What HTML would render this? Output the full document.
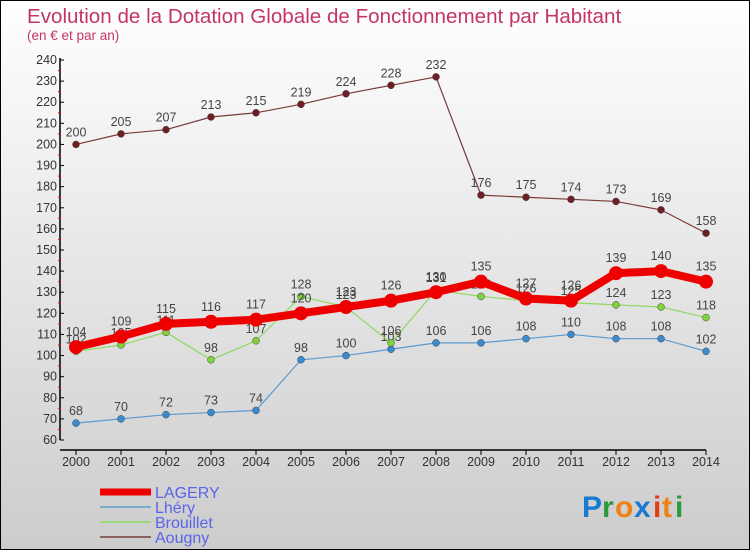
<!DOCTYPE html>
<html><head><meta charset="utf-8"><style>
body{margin:0}
svg{display:block;font-family:"Liberation Sans",sans-serif}
</style></head><body>
<svg width="750" height="550" viewBox="0 0 750 550" xmlns="http://www.w3.org/2000/svg">
<defs><linearGradient id="bg" x1="0" y1="0" x2="0" y2="1"><stop offset="0" stop-color="#ffffff"/><stop offset="1" stop-color="#cccccc"/></linearGradient></defs>
<rect x="0.5" y="0.5" width="749" height="549" fill="url(#bg)" stroke="#000"/>
<text x="27" y="23" font-size="20.6" fill="#c4346a">Evolution de la Dotation Globale de Fonctionnement par Habitant</text>
<text x="27" y="40" font-size="13.5" fill="#c4346a">(en € et par an)</text>
<g id="axes"></g>
<g id="series"></g>
<g id="legend"></g>
<g font-size="30" font-weight="bold">
<text x="582" y="517" fill="#1a7ad0">P</text><text x="602" y="517" fill="#2a9a3a">r</text><text x="615" y="517" fill="#f08010">o</text><text x="634" y="517" fill="#1a7ad0">x</text><text x="653" y="517" fill="#e04010">i</text><text x="662" y="517" fill="#f08010">t</text><text x="675" y="517" fill="#2a9a3a">i</text>
</g>
</svg>
<script>
const years=[2000,2001,2002,2003,2004,2005,2006,2007,2008,2009,2010,2011,2012,2013,2014];
const yTicks=[60,70,80,90,100,110,120,130,140,150,160,170,180,190,200,210,220,230,240];
const lagery=[104,109,115,116,117,120,123,126,130,135,127,126,139,140,135];
const lhery=[68,70,72,73,74,98,100,103,106,106,108,110,108,108,102];
const brouillet=[102,105,111,98,107,128,123,106,131,128,126,125,124,123,118];
const aougny=[200,205,207,213,215,219,224,228,232,176,175,174,173,169,158];
const NS="http://www.w3.org/2000/svg";
const xs=i=>76+i*45;
const ys=v=>440-(v-60)*380/180;
function mk(tag,attrs,parent){const e=document.createElementNS(NS,tag);for(const k in attrs)e.setAttribute(k,attrs[k]);parent.appendChild(e);return e;}
const axes=document.getElementById('axes');
let a=mk('line',{x1:60,y1:ys(240)-2,x2:60,y2:440,stroke:'#000','stroke-width':1.5},axes);


a=mk('line',{x1:60,y1:450,x2:706,y2:450,stroke:'#000','stroke-width':1.5},axes);


yTicks.forEach((v,i)=>{
  mk('line',{x1:60,y1:ys(v),x2:64,y2:ys(v),stroke:'#000'},axes);
  if(i<yTicks.length-1) mk('line',{x1:58,y1:ys(v+5),x2:61,y2:ys(v+5),stroke:'#e00'},axes);
  const t=mk('text',{x:57,y:ys(v)+4,'font-size':12.5,'text-anchor':'end',fill:'#333'},axes);
  t.textContent=v;
  
  
});
years.forEach((y,i)=>{
  mk('line',{x1:xs(i),y1:450,x2:xs(i),y2:455,stroke:'#000'},axes);
  const t=mk('text',{x:xs(i),y:466,'font-size':12.5,'text-anchor':'middle',fill:'#333'},axes);
  t.textContent=y;
  
  
});
const ser=document.getElementById('series');
const defs=[
 {d:aougny,c:'#6e1f24',lc:'#7a3a3a',w:1.2,r:3.5,n:'aougny'},
 {d:lhery,c:'#3a8ad0',lc:'#5a9ad0',w:1.2,r:3.5,n:'lhery'},
 {d:brouillet,c:'#7ed23a',lc:'#90d860',w:1.2,r:3.5,n:'brouillet'},
 {d:lagery,c:'#ee0000',lc:'#ee0000',w:8,r:7,n:'lagery'}
];
defs.forEach(s=>{
  const g=mk('g',{},ser);
  
  
  const p=mk('polyline',{points:s.d.map((v,i)=>xs(i)+','+ys(v)).join(' '),fill:'none',stroke:s.lc,'stroke-width':s.w},g);
  
  
  s.d.forEach((v,i)=>{
    const c=mk('circle',{cx:xs(i),cy:ys(v),r:s.r,fill:s.c,stroke:s.n==='lagery'?'none':'#444','stroke-width':0.5},g);
    
    
    const t=mk('text',{x:xs(i),y:ys(v)-(s.n==='lagery'?11:8),'font-size':12.5,'text-anchor':'middle',fill:'#444'},g);
    t.textContent=v;
    
    
  });
});
const leg=document.getElementById('legend');
const items=[['LAGERY','#ee0000',7],['Lhéry','#7aaed0',2],['Brouillet','#9ad878',2],['Aougny','#8a6060',2]];
items.forEach((it,i)=>{
  const g=mk('g',{},leg);
  
  
  const y=492+i*15;
  mk('line',{x1:100,y1:y,x2:151,y2:y,stroke:it[1],'stroke-width':it[2]},g);
  const t=mk('text',{x:155,y:y+6,'font-size':16,fill:'#5a64e8'},g);
  t.textContent=it[0];
});
</script>
</body></html>
